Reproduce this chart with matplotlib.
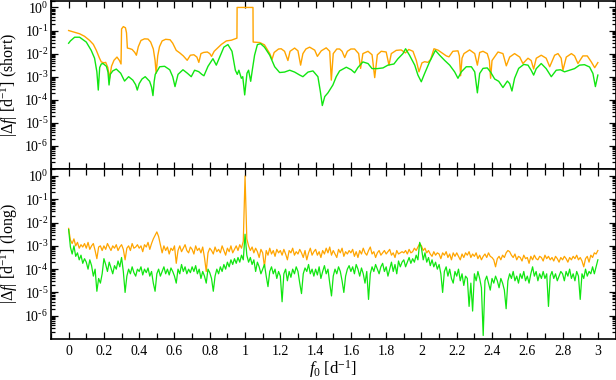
import numpy as np
import matplotlib
matplotlib.use("Agg")
import matplotlib.pyplot as plt
from matplotlib.ticker import FixedLocator, MultipleLocator, FuncFormatter

plt.rcParams['font.family'] = ['Liberation Serif', 'DejaVu Serif']
plt.rcParams['mathtext.fontset'] = 'custom'
plt.rcParams['mathtext.rm'] = 'Liberation Serif'
plt.rcParams['mathtext.it'] = 'Liberation Serif:italic'
plt.rcParams['mathtext.bf'] = 'Liberation Serif:bold'

ORANGE = '#ffa500'
GREEN = '#11e611'

# ---- short data set (top panel), values read as log10 |df|
short_orange_f = [0.0, 0.03, 0.062, 0.09, 0.119, 0.14, 0.157, 0.175, 0.185, 0.2, 0.21, 0.222, 0.232, 0.243,
                  0.257, 0.274, 0.288, 0.297, 0.300, 0.31, 0.322, 0.328, 0.333, 0.345, 0.36, 0.375, 0.384,
                  0.395, 0.41, 0.43, 0.45, 0.465, 0.48, 0.49, 0.496, 0.505, 0.515, 0.53, 0.55, 0.575, 0.59,
                  0.61, 0.63, 0.65, 0.672, 0.69, 0.71, 0.727, 0.738, 0.75, 0.765, 0.786, 0.8, 0.81, 0.825,
                  0.84, 0.866, 0.894, 0.922, 0.954, 0.955, 1.045, 1.046, 1.083, 1.11, 1.14, 1.153, 1.165,
                  1.19, 1.205, 1.224, 1.243, 1.255, 1.281, 1.3, 1.315, 1.328, 1.345, 1.366, 1.395, 1.41,
                  1.432, 1.46, 1.48, 1.489, 1.5, 1.52, 1.536, 1.55, 1.565, 1.58, 1.6, 1.621, 1.644, 1.655,
                  1.668, 1.697, 1.72, 1.735, 1.75, 1.772, 1.8, 1.816, 1.829, 1.857, 1.885, 1.909, 1.928,
                  1.952, 1.971, 1.986, 2.003, 2.018, 2.037, 2.052, 2.071, 2.094, 2.122, 2.141, 2.156,
                  2.178, 2.207, 2.215, 2.222, 2.23, 2.241, 2.273, 2.302, 2.317, 2.33, 2.349, 2.373, 2.385,
                  2.392, 2.4, 2.434, 2.462, 2.481, 2.5, 2.528, 2.557, 2.575, 2.604, 2.622, 2.636, 2.651,
                  2.679, 2.707, 2.727, 2.755, 2.774, 2.792, 2.802, 2.821, 2.85, 2.868, 2.887, 2.915, 2.94,
                  2.962, 2.982, 3.0]
short_orange_log = [-1.0, -1.07, -1.14, -1.25, -1.43, -1.6, -1.86, -2.2, -2.36, -2.4, -2.38, -2.6, -3.07, -2.55,
                    -2.29, -2.15, -2.3, -2.45, -0.93, -0.83, -0.88, -1.1, -1.76, -1.78, -1.82, -1.95, -2.07,
                    -1.7, -1.43, -1.36, -1.37, -1.5, -1.8, -2.3, -2.85, -2.1, -1.7, -1.45, -1.38, -1.4, -1.55,
                    -1.86, -1.97, -2.1, -2.29, -2.07, -2.05, -2.15, -2.38, -2.0, -1.95, -1.93, -2.0, -2.12, -1.9,
                    -1.79, -1.6, -1.45, -1.42, -1.33, 0.0, 0.0, -1.5, -1.52, -1.62, -2.0, -2.25, -1.95,
                    -1.8, -1.79, -1.9, -2.3, -1.9, -1.76, -1.88, -2.5, -2.0, -1.8, -1.72, -1.85, -2.12,
                    -1.88, -1.75, -1.9, -3.15, -2.0, -1.8, -1.8, -1.9, -2.17, -1.9, -1.8, -1.8, -2.0, -2.64,
                    -2.0, -1.9, -2.05, -3.04, -2.05, -1.9, -1.93, -2.5, -2.0, -1.86, -1.84, -1.97, -1.82,
                    -1.9, -2.3, -2.79, -2.4, -2.35, -2.38, -2.25, -1.79, -1.85, -2.0, -2.1, -2.14,
                    -1.9, -1.88, -2.1, -2.96, -2.2, -2.0, -1.84, -2.0, -2.5, -1.95, -1.9, -2.0, -2.3,
                    -3.07, -2.3, -1.93, -2.0, -2.53, -2.15, -2.0, -2.15, -2.43, -2.2, -2.3, -2.67, -2.2,
                    -2.07, -2.2, -2.57, -2.07, -2.0, -2.2, -2.72, -2.15, -2.0, -2.1, -2.43, -2.1, -2.1,
                    -2.35, -2.61, -2.39]

short_green_f = [0.0, 0.01, 0.034, 0.062, 0.1, 0.128, 0.147, 0.16, 0.168, 0.176, 0.185, 0.195, 0.214, 0.223,
                 0.229, 0.236, 0.25, 0.27, 0.295, 0.317, 0.34, 0.364, 0.38, 0.389, 0.4, 0.416, 0.434, 0.459,
                 0.47, 0.478, 0.485, 0.491, 0.516, 0.544, 0.573, 0.59, 0.603, 0.62, 0.648, 0.673, 0.695,
                 0.714, 0.737, 0.755, 0.767, 0.79, 0.818, 0.83, 0.837, 0.856, 0.88, 0.903, 0.926, 0.945,
                 0.956, 0.965, 0.979, 0.987, 0.998, 1.011, 1.02, 1.032, 1.041, 1.054, 1.07, 1.088, 1.11,
                 1.14, 1.168, 1.196, 1.224, 1.253, 1.281, 1.31, 1.328, 1.357, 1.385, 1.413, 1.427, 1.438,
                 1.452, 1.47, 1.498, 1.517, 1.536, 1.574, 1.602, 1.621, 1.64, 1.668, 1.697, 1.72, 1.75,
                 1.782, 1.81, 1.844, 1.867, 1.895, 1.91, 1.933, 1.962, 1.98, 1.999, 2.018, 2.046, 2.065,
                 2.079, 2.103, 2.131, 2.16, 2.188, 2.207, 2.226, 2.254, 2.283, 2.302, 2.317, 2.33, 2.349,
                 2.373, 2.392, 2.415, 2.438, 2.462, 2.487, 2.5, 2.513, 2.528, 2.551, 2.58, 2.604, 2.622,
                 2.636, 2.651, 2.679, 2.707, 2.736, 2.764, 2.788, 2.811, 2.84, 2.868, 2.896, 2.924, 2.953,
                 2.972, 2.986, 3.0]
short_green_log = [-1.55, -1.45, -1.29, -1.29, -1.5, -1.86, -2.2, -2.79, -3.58, -2.6, -2.45, -2.43, -2.55, -2.8,
                   -3.36, -2.9, -2.75, -2.67, -2.85, -3.19, -3.0, -3.15, -3.35, -3.58, -3.3, -3.1, -3.0, -3.2,
                   -3.45, -3.82, -3.2, -2.9, -2.57, -2.55, -2.7, -3.0, -3.43, -2.9, -2.7, -2.85, -3.0,
                   -2.72, -2.78, -2.9, -2.96, -2.55, -2.22, -2.4, -2.5, -2.15, -1.72, -1.61, -1.9, -2.72,
                   -2.9, -2.72, -3.07, -3.0, -3.79, -2.85, -2.72, -3.2, -2.72, -2.07, -1.61, -1.57, -1.72,
                   -2.07, -2.57, -2.82, -2.8, -2.72, -2.8, -2.93, -3.0, -2.8, -2.75, -3.0, -3.65, -4.25,
                   -3.86, -3.7, -3.36, -3.0, -2.75, -2.59, -2.7, -2.83, -2.6, -2.36, -2.43, -2.65, -2.65,
                   -2.62, -2.5, -2.45, -2.22, -2.0, -1.79, -2.08, -2.5, -2.93, -3.22, -2.86, -2.36, -2.07,
                   -1.86, -2.07, -2.29, -2.5, -2.79, -3.07, -2.79, -2.57, -2.57, -2.79, -3.7, -2.86, -2.64,
                   -2.62, -2.8, -3.1, -3.2, -3.47, -3.19, -3.3, -3.62, -3.07, -2.64, -2.47, -2.5, -2.72,
                   -2.93, -2.65, -2.43, -2.65, -3.0, -2.72, -2.7, -2.79, -2.72, -2.65, -2.5, -2.48, -2.58,
                   -2.86, -3.43, -2.93]

# ---- long data set (bottom panel), one value every 0.01 d^-1 from 0 to 3
long_f = np.round(np.arange(301) * 0.01, 2)
long_orange_log = [
    -2.25, -2.75, -2.9, -2.7, -3.0, -2.85, -3.1, -2.95, -3.05, -2.9,
    -3.1, -2.85, -3.15, -3.0, -2.9, -3.2, -3.55, -3.05, -3.0, -3.2,
    -3.0, -3.15, -2.9, -3.05, -3.2, -3.0, -3.1, -2.95, -3.2, -3.05,
    -2.95, -3.15, -3.6, -3.1, -3.0, -3.2, -2.9, -3.1, -3.05, -2.95,
    -3.1, -3.0, -3.25, -2.95, -3.05, -2.85, -3.15, -2.9, -2.7, -2.55,
    -2.4, -2.6, -2.95, -3.3, -3.0, -3.2, -3.05, -3.35, -3.1, -3.2,
    -3.0, -3.75, -3.2, -3.0, -3.25, -3.1, -2.95, -3.2, -3.3, -3.05,
    -3.15, -3.35, -3.0, -3.2, -3.1, -3.3, -3.05, -3.5, -4.1, -3.3,
    -3.1, -3.2, -3.35, -3.05, -3.25, -3.15, -3.3, -3.0, -3.2, -3.4,
    -3.1, -3.25, -3.0, -3.3, -3.15, -3.0, -3.2, -2.95, -3.1, -2.8,
    0.0, -2.7, -3.0, -3.2, -3.05, -3.3, -3.1, -3.25, -3.5, -3.15,
    -3.3, -3.9, -3.2, -3.4, -3.1, -3.35, -3.2, -3.45, -3.15, -3.3,
    -3.2, -3.4, -3.15, -3.35, -3.6, -3.2, -3.3, -3.1, -3.4, -3.25,
    -3.35, -3.15, -3.3, -3.5, -3.2, -3.6, -3.3, -3.1, -3.4, -3.25,
    -3.15, -3.4, -3.25, -3.5, -3.2, -3.35, -3.1, -3.3, -3.05, -3.4,
    -3.2, -3.35, -3.5, -3.15, -3.3, -3.1, -3.45, -3.25, -3.35, -3.2,
    -3.3, -3.15, -3.45, -3.25, -3.5, -3.2, -3.35, -3.1, -3.3, -3.4,
    -3.2, -3.05, -3.35, -3.25, -3.5, -3.3, -3.2, -3.4, -3.3, -3.2,
    -3.35, -3.25, -3.15, -3.4, -3.3, -3.5, -3.2, -3.35, -3.3, -3.25,
    -3.3, -3.2, -3.35, -3.15, -3.3, -3.25, -3.1, -3.2, -3.05, -2.9,
    -3.0, -3.2, -3.1, -3.3, -3.2, -3.35, -3.45, -3.25, -3.4, -3.3,
    -3.35, -3.55, -3.3, -3.4, -3.25, -3.5, -3.35, -3.6, -3.3, -3.45,
    -3.3, -3.45, -3.6, -3.35, -3.5, -3.3, -3.4, -3.25, -3.5, -3.35,
    -3.45, -3.3, -3.55, -3.4, -3.6, -3.45, -3.35, -3.5, -3.3, -3.45,
    -3.5, -3.6, -3.9, -3.55, -3.45, -3.6, -3.4, -3.5, -3.3, -3.2,
    -3.25, -3.4, -3.5, -3.35, -3.6, -3.45, -3.5, -3.65, -3.4, -3.55,
    -3.5, -3.75, -3.45, -3.6, -3.4, -3.55, -3.6, -3.45, -3.5, -3.65,
    -3.4, -3.55, -3.45, -3.6, -3.5, -3.65, -3.45, -3.55, -3.7, -3.5,
    -3.6, -3.45, -3.55, -3.7, -3.5, -3.6, -3.45, -3.55, -3.4, -3.6,
    -3.5, -3.65, -3.9, -3.55, -3.45, -3.7, -3.4, -3.5, -3.3, -3.35,
    -3.2]
long_green_log = [
    -2.3, -3.05, -3.35, -3.0, -3.45, -3.3, -3.6, -3.4, -3.75, -3.55,
    -3.7, -4.0, -3.6, -3.85, -4.3, -4.0, -4.95, -4.4, -4.6, -4.2,
    -3.55, -3.8, -4.1, -3.7, -3.95, -4.2, -3.85, -4.0, -3.65, -3.9,
    -3.5, -4.1, -5.0, -4.3, -4.0, -4.2, -3.9, -4.15, -4.3, -4.0,
    -4.1, -3.9, -4.25, -4.0, -4.15, -3.95, -4.3, -4.1, -4.6, -4.95,
    -4.2, -4.0, -4.3, -4.1, -3.9, -4.2, -4.0, -4.25, -3.95, -4.1,
    -4.3, -4.6, -4.0, -4.2, -3.8, -4.1, -3.9, -4.2, -4.0, -4.15,
    -3.9, -4.1, -3.85, -4.2, -4.0, -4.4, -4.1, -4.3, -4.6, -4.0,
    -4.15, -4.4, -4.95, -4.3, -4.0, -4.2, -3.9, -4.1, -3.8, -4.0,
    -3.7, -3.9, -3.6, -3.8, -3.55, -3.75, -3.5, -3.7, -3.4, -3.6,
    -2.5, -3.4, -3.7, -3.5, -3.8, -3.6, -4.1, -3.7, -3.9, -4.2,
    -4.0, -3.8, -4.3, -4.75, -4.1, -3.9, -4.2, -4.0, -4.4, -4.1,
    -4.3, -5.4, -4.2, -4.0, -4.5, -4.1, -4.35, -4.0, -4.2, -3.9,
    -4.1, -4.6, -5.05, -4.2, -3.95, -4.1, -3.8, -4.2, -4.0, -4.3,
    -4.0, -4.25, -3.9, -4.4, -4.1, -3.85, -4.2, -4.0, -4.6, -5.15,
    -4.3, -4.0, -4.2, -3.9, -4.1, -4.5, -5.0, -4.3, -4.0, -3.85,
    -4.1, -3.9, -4.2, -3.8, -4.0, -4.3, -3.95, -4.2, -4.6, -4.1,
    -5.3, -4.2, -3.9, -4.1, -3.8, -4.0, -4.2, -3.9, -3.75, -4.1,
    -3.9, -4.3, -4.0, -3.7, -4.1, -3.8, -4.2, -3.65, -3.9, -3.7,
    -3.6, -3.9, -3.7, -3.5, -3.75, -3.55, -3.7, -3.4, -3.6, -2.85,
    -3.1, -3.6, -3.3, -3.7, -3.5, -3.85, -3.6, -3.9, -3.7, -4.0,
    -3.8, -4.2, -5.0, -4.1, -3.9, -4.3, -4.0, -4.4, -4.6, -4.1,
    -4.3, -4.0, -4.5, -4.2, -4.7, -4.3, -4.4, -5.6, -4.6, -5.8,
    -4.2, -4.5, -4.1, -4.4, -4.8, -6.85, -4.5, -4.3, -4.6, -4.9,
    -4.4, -4.6, -4.3, -4.5, -4.8, -4.4, -4.6, -4.9, -5.7, -4.5,
    -4.2, -4.4, -4.1, -4.5, -4.3, -4.6, -4.2, -4.4, -4.1, -4.5,
    -4.3, -4.6, -4.2, -3.9, -4.3, -4.1, -4.5, -4.2, -4.4, -4.1,
    -4.4, -4.2, -5.6, -4.3, -4.1, -4.4, -4.2, -4.5, -4.3, -4.1,
    -4.2, -4.5, -4.1, -4.3, -4.0, -4.4, -4.2, -4.5, -4.1, -4.3,
    -5.3, -4.2, -4.4, -4.0, -4.3, -4.1, -4.2, -3.9, -4.2, -3.9,
    -3.6]

fig = plt.figure(figsize=(6.16, 3.8), dpi=100)
ax1 = fig.add_axes([51 / 616, 1 - 169 / 380, 564.5 / 616, 168.5 / 380])
ax2 = fig.add_axes([51 / 616, 1 - 339 / 380, 564.5 / 616, 170 / 380])

ax1.plot(short_orange_f, 10 ** np.array(short_orange_log), color=ORANGE, lw=1)
ax1.plot(short_green_f, 10 ** np.array(short_green_log), color=GREEN, lw=1)
ax2.plot(long_f, 10 ** np.array(long_orange_log), color=ORANGE, lw=0.9)
ax2.plot(long_f, 10 ** np.array(long_green_log), color=GREEN, lw=0.9)


def decade_label(v, pos):
    e = int(round(np.log10(v)))
    # plain hyphen in the exponent, as in the original figure
    return r'$10^{\mathrm{%s}}$' % (str(e).replace('-', '\u2010'))


minor_y = [m * 10.0 ** e for e in range(-7, 1) for m in range(2, 10)]
for ax in (ax1, ax2):
    ax.set_yscale('log')
    ax.set_xlim(-0.1, 3.1)
    ax.set_ylim(1e-7, 2)
    ax.xaxis.set_major_locator(MultipleLocator(0.2))
    ax.xaxis.set_minor_locator(MultipleLocator(0.1))
    ax.yaxis.set_major_locator(FixedLocator([10.0 ** e for e in range(-6, 1)]))
    ax.yaxis.set_minor_locator(FixedLocator(minor_y))
    ax.yaxis.set_major_formatter(FuncFormatter(decade_label))
    ax.tick_params(which='both', direction='in', top=True, right=True, labelsize=10, width=0.9)
    ax.tick_params(which='major', length=5, pad=2)
    ax.tick_params(which='minor', length=3)
    ax.tick_params(axis='x', which='minor', length=4)
    for s in ax.spines.values():
        s.set_linewidth(1.2)

ax1.tick_params(labelbottom=False)
ax2.xaxis.set_major_formatter(FuncFormatter(lambda v, p: ('%g' % round(v, 1)) if -0.01 < v < 3.01 else ''))
ax2.tick_params(axis='x', pad=4)

ax1.set_ylabel(r'$|\Delta f|$ [d$^{-1}$] (short)', fontsize=11.5)
ax2.set_ylabel(r'$|\Delta f|$ [d$^{-1}$] (long)', fontsize=11.5)
ax1.yaxis.set_label_coords(-0.055, 0.5)
ax2.yaxis.set_label_coords(-0.055, 0.5)
ax2.set_xlabel(r'$f_0$ [d$^{-1}$]', fontsize=12)
ax2.xaxis.set_label_coords(0.5, -0.115)

fig.savefig('out.png', dpi=100)
